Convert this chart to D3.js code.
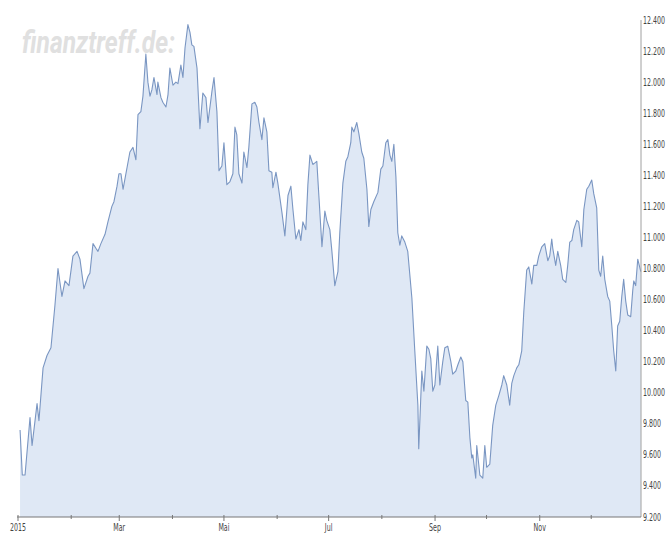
<!DOCTYPE html>
<html>
  <head>
    <title>DAX 2015 | D3</title>
    <script src="https://d3js.org/d3.v7.min.js" charset="utf-8"></script>
    <style>
      body {
        margin: 0;
        background: white;
        font-family: "Liberation Sans Narrow", "DejaVu Sans Condensed", "Liberation Sans", sans-serif;
      }
      .tick-label {
        font-size: 10px;
        fill: #444;
      }
      .watermark {
        font-family: Roboto, "Liberation Sans", sans-serif;
        font-style: italic;
        font-weight: bold;
        font-size: 31px;
        fill: #e0e0e0;
      }
    </style>
  </head>
  <body>
    <script>
      // day of year (0 = 1 Jan 2015) and closing value
      var tradingDays = [
        1.2, 2.5, 4.1, 7.0, 8.2, 11.1, 12.2, 14.6, 16.9, 19.2, 21.5, 23.3, 25.6, 27.4, 29.7, 32.0, 34.4, 36.1, 38.4, 40.8,
        41.9, 43.7, 45.4, 46.6, 48.3, 50.7, 52.4, 54.7, 55.9, 57.7, 58.8, 60.0, 61.2,
        65.2, 67.0, 68.7, 69.9, 71.6, 72.8, 74.5, 75.7, 76.9, 78.0, 79.2, 81.0, 81.5, 83.3, 84.4, 86.2, 87.4, 88.5, 90.3, 92.0,
        93.2, 94.9, 96.1, 97.3, 99.0, 100.2, 101.3, 102.5, 104.3, 106.0, 107.7, 109.5, 110.7, 113.0, 114.2, 115.9, 117.1, 118.8, 120.0, 121.7,
        123.5, 125.2, 126.4, 127.5, 128.7, 130.5, 131.6, 133.4, 134.5, 136.3, 138.0, 139.2, 140.4, 142.1, 143.3, 145.0, 146.2, 147.9, 148.5, 150.3,
        151.4, 153.8, 155.5, 157.3, 159.0, 160.2, 161.9, 163.7, 164.8, 166.0, 167.7, 168.9, 170.1, 171.8, 173.0, 174.1, 175.3, 177.1, 178.8, 179.9, 181.7,
        182.9, 184.6, 186.4, 187.5, 189.3, 191.0, 192.2, 193.9, 194.5, 195.7, 197.4, 198.6, 200.3, 201.5, 203.3, 204.4, 205.6, 207.3, 209.7, 211.4, 212.6,
        214.3, 215.5, 216.7, 217.8, 219.0, 220.2, 221.3, 222.5, 223.6, 225.4, 227.1, 229.5, 231.2, 233.0, 233.5, 235.3, 236.5, 238.2, 239.4, 240.5, 241.7, 242.9, 244.6,
        245.8, 247.5, 248.7, 250.4, 252.2, 253.3, 255.1, 256.3, 258.0, 259.2, 260.9, 262.1, 263.3, 264.4, 265.0, 266.7, 267.3, 269.1, 270.8, 272.0, 273.1, 274.9,
        276.6, 278.4, 280.1, 281.9, 283.0, 284.8, 286.5, 287.7, 288.9, 290.6, 291.8, 293.5, 294.7, 296.4, 297.6, 299.4, 300.5, 302.3, 303.4, 305.2, 306.9,
        308.7, 309.8, 311.0, 311.6, 313.3, 314.5, 316.2, 317.4, 319.2, 320.3, 321.5, 322.7, 323.8, 325.6, 326.7, 328.5, 329.7, 331.4, 332.6, 334.3, 335.5, 337.2,
        338.4, 339.5, 340.7, 341.9, 343.6, 344.8, 346.0, 347.1, 348.3, 349.4, 350.6, 351.8, 352.9, 354.1, 355.3, 357.0, 358.2, 358.8, 359.9, 361.1, 362.9
      ];
      var closes = [
        9760, 9470, 9470, 9840, 9660, 9930, 9820, 10160, 10240, 10290, 10560, 10800, 10620, 10720, 10690, 10880, 10910, 10860, 10670, 10750,
        10770, 10960, 10930, 10910, 10960, 11020, 11100, 11200, 11230, 11330, 11410, 11410, 11310,
        11550, 11580, 11500, 11790, 11810, 11910, 12180, 12000, 11910, 11950, 12030, 11920, 12000, 11900, 11870, 11840, 11920, 12090, 11980, 12000,
        11990, 12110, 12030, 12220, 12370, 12320, 12240, 12230, 12090, 11700, 11930, 11900, 11740, 11940, 12030, 11810, 11430, 11460, 11610, 11340,
        11360, 11410, 11710, 11660, 11410, 11350, 11550, 11450, 11580, 11860, 11870, 11840, 11740, 11630, 11770, 11680, 11430, 11420, 11320, 11420,
        11350, 11160, 11010, 11270, 11330, 11180, 10990, 11050, 10980, 11100, 11050, 11340, 11530, 11470, 11480, 11490, 11270, 10940, 11170, 11110, 11050,
        10910, 10690, 10780, 11030, 11350, 11490, 11520, 11610, 11710, 11680, 11740, 11670, 11550, 11510, 11310, 11070, 11180, 11230, 11290, 11440, 11460,
        11610, 11630, 11530, 11490, 11600, 11390, 11030, 10950, 11010, 10970, 10910, 10610, 10270, 9920, 9640, 10140, 10010, 10300, 10280, 10220, 10010, 10050, 10300,
        10050, 10200, 10290, 10300, 10200, 10120, 10140, 10180, 10230, 10200, 9950, 9940, 9710, 9580, 9600, 9450, 9660, 9470, 9450, 9660, 9520, 9540,
        9790, 9920, 9980, 10050, 10110, 10050, 9920, 10060, 10110, 10160, 10180, 10270, 10520, 10790, 10810, 10700, 10820, 10820, 10880, 10940, 10960,
        10850, 10880, 10990, 10930, 10820, 10910, 10820, 10730, 10710, 10820, 10970, 10980, 11050, 11110, 11100, 10940, 11180, 11310, 11330, 11370, 11280, 11190,
        10790, 10750, 10880, 10730, 10620, 10590, 10430, 10270, 10140, 10430, 10460, 10620, 10730, 10590, 10500, 10490, 10660, 10720, 10690, 10860, 10780
      ];

      // x axis: one tick per month, every other one labelled
      var monthLabels = ["2015", "", "Mar", "", "Mai", "", "Jul", "", "Sep", "", "Nov", ""];
      // y axis: 9.200 .. 12.400
      var yTicks = [9200, 9400, 9600, 9800, 10000, 10200, 10400, 10600, 10800, 11000, 11200, 11400, 11600, 11800, 12000, 12200, 12400];

      var width = 669;
      var height = 536;
      var startDate = new Date(2015, 0, 1);
      var squeeze = 0.7; // the original uses a very narrow font

      var data = tradingDays.map(function(d, i) {
        return { date: new Date(startDate.getTime() + d * 864e5), value: closes[i] };
      });

      var svg = d3.select("body")
        .append("svg")
        .attr("width", width)
        .attr("height", height);

      var x = d3.scaleTime()
        .domain([startDate, new Date(2015, 11, 30)])
        .range([18, 641]);

      var y = d3.scaleLinear()
        .domain([9200, 12400])
        .range([517, 20]);

      var de = d3.formatLocale({ decimal: ",", thousands: ".", grouping: [3], currency: ["", " €"] });
      var fmt = de.format(",d");

      // watermark behind the chart
      svg.append("text")
        .attr("class", "watermark")
        .attr("x", 22)
        .attr("y", 53)
        .attr("textLength", 153)
        .attr("lengthAdjust", "spacingAndGlyphs")
        .text("finanztreff.de:");

      var area = d3.area()
        .x(function(d) { return x(d.date); })
        .y0(y(9200))
        .y1(function(d) { return y(d.value); });

      var line = d3.line()
        .x(function(d) { return x(d.date); })
        .y(function(d) { return y(d.value); });

      svg.append("path")
        .datum(data)
        .attr("fill", "#dfe8f5")
        .attr("d", area);

      svg.append("path")
        .datum(data)
        .attr("fill", "none")
        .attr("stroke", "#7a96c2")
        .attr("stroke-width", 1.1)
        .attr("stroke-linejoin", "round")
        .attr("d", line);

      // right value axis
      svg.append("line")
        .attr("x1", 641).attr("x2", 641)
        .attr("y1", y(12400)).attr("y2", y(9200))
        .attr("stroke", "#a0a0a0");

      svg.selectAll(".ylab")
        .data(yTicks)
        .enter()
        .append("text")
        .attr("class", "tick-label ylab")
        .attr("transform", function(d) { return "translate(643," + y(d) + ") scale(" + squeeze + ",1)"; })
        .attr("dy", "0.35em")
        .text(function(d) { return fmt(d); });

      // bottom time axis
      var months = d3.timeMonth.range(startDate, new Date(2015, 11, 2));

      svg.append("line")
        .attr("x1", 17).attr("x2", 641)
        .attr("y1", 517).attr("y2", 517)
        .attr("stroke", "#777");

      svg.selectAll(".xtick")
        .data(months)
        .enter()
        .append("line")
        .attr("class", "xtick")
        .attr("x1", function(d) { return x(d); })
        .attr("x2", function(d) { return x(d); })
        .attr("y1", 515)
        .attr("y2", function(d, i) { return monthLabels[i] ? 521 : 519; })
        .attr("stroke", "#777");

      svg.selectAll(".xlab")
        .data(months.filter(function(d, i) { return monthLabels[i]; }))
        .enter()
        .append("text")
        .attr("class", "tick-label xlab")
        .attr("transform", function(d) { return "translate(" + x(d) + ",531) scale(" + squeeze + ",1)"; })
        .attr("text-anchor", "middle")
        .text(function(d) { return monthLabels[d.getMonth()]; });
    </script>
  </body>
</html>
